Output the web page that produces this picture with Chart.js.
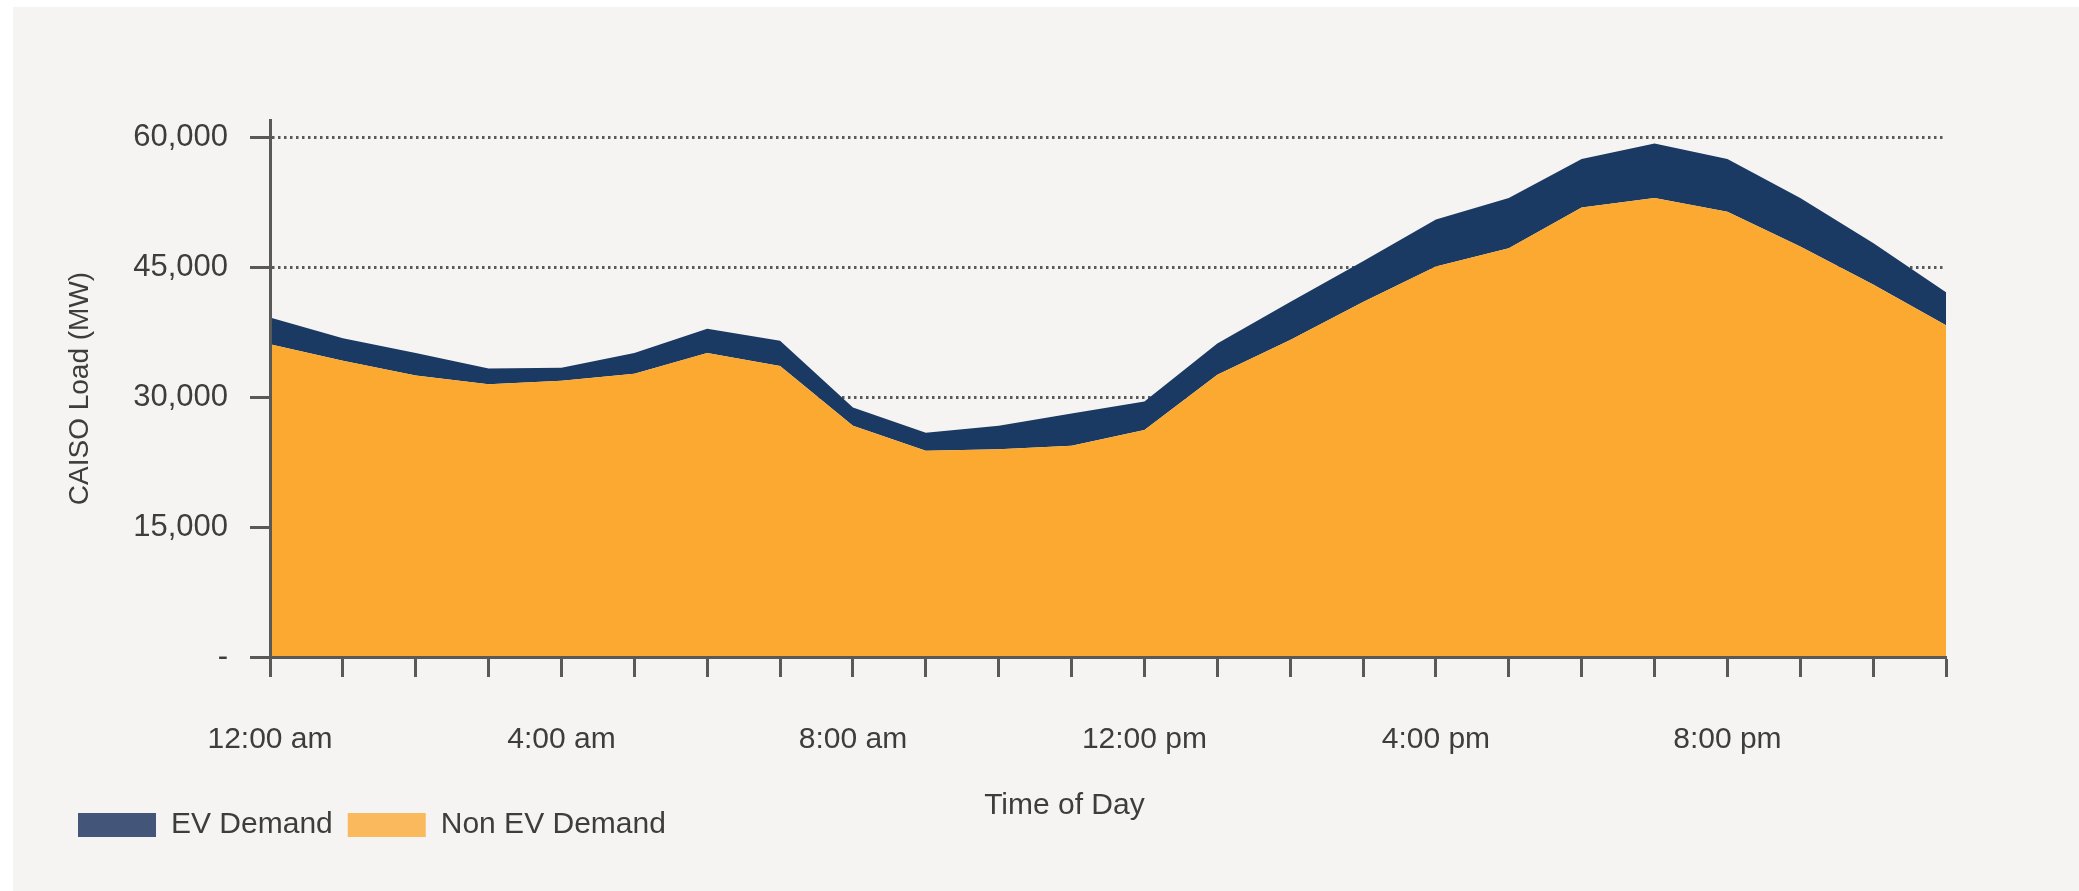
<!DOCTYPE html>
<html>
<head>
<meta charset="utf-8">
<script src="https://cdn.jsdelivr.net/npm/chart.js@4.4.0/dist/chart.umd.min.js"></script>
<style>
  html, body { margin: 0; padding: 0; background: #ffffff; }
  #frame { position: absolute; left: 13px; top: 7px; width: 2066px; height: 884px; background: #f5f4f2; }
</style>
</head>
<body>
<div id="frame"><canvas id="load"></canvas></div>
<script>
var hours = ['12:00 am', '1:00 am', '2:00 am', '3:00 am', '4:00 am', '5:00 am',
             '6:00 am', '7:00 am', '8:00 am', '9:00 am', '10:00 am', '11:00 am',
             '12:00 pm', '1:00 pm', '2:00 pm', '3:00 pm', '4:00 pm', '5:00 pm',
             '6:00 pm', '7:00 pm', '8:00 pm', '9:00 pm', '10:00 pm', '11:00 pm'];
var shownHours = ['12:00 am', '4:00 am', '8:00 am', '12:00 pm', '4:00 pm', '8:00 pm'];

// MW, hourly
var nonEvDemand = [36100, 34200, 32500, 31500, 31900, 32700, 35100, 33600, 26700, 23800, 24000, 24400,
                   26200, 32600, 36600, 41000, 45100, 47200, 51900, 53000, 51400, 47400, 43000, 38300];
var evDemand = [3100, 2600, 2600, 1800, 1500, 2400, 2800, 2900, 2100, 2100, 2700, 3700,
                3300, 3600, 4400, 4700, 5400, 5800, 5600, 6300, 6100, 5600, 4800, 3800];

var loadTicks = [0, 15000, 30000, 45000, 60000];

var axisGray = '#595959';
var textGray = '#3d3d3d';
var fontName = '"Liberation Sans", Arial, sans-serif';

window.addEventListener("load", function() {
    init();
});

function init() {
    renderLoadChart();
}

// x axis title sits a little left of the plot's middle
var timeTitle = {
    id: 'timeTitle',
    afterDraw: function(chart) {
        var area = chart.chartArea;
        var ctx = chart.ctx;
        ctx.save();
        ctx.font = '30px ' + fontName;
        ctx.fillStyle = textGray;
        ctx.textAlign = 'center';
        ctx.textBaseline = 'middle';
        ctx.fillText('Time of Day', area.left + area.width * 0.474, area.bottom + 149);
        ctx.restore();
    }
};

function renderLoadChart() {
    var ctx = document.getElementById('load').getContext('2d');
    var legendColors = ['#fbb95d', '#44557a'];

    new Chart(ctx, {
        type: 'line',
        data: {
            labels: hours,
            datasets: [{
                label: 'Non EV Demand',
                data: nonEvDemand,
                backgroundColor: '#fba931',
                borderWidth: 0,
                pointRadius: 0,
                fill: 'origin'
            }, {
                label: 'EV Demand',
                data: evDemand,
                backgroundColor: '#1b3a63',
                borderWidth: 0,
                pointRadius: 0,
                fill: '-1'
            }]
        },
        options: {
            responsive: true,
            maintainAspectRatio: false,
            animation: false,
            layout: {
                padding: { left: 50, right: 133, top: 113, bottom: 41 }
            },
            plugins: {
                tooltip: { enabled: false },
                legend: {
                    position: 'bottom',
                    align: 'start',
                    reverse: true,
                    labels: {
                        boxWidth: 78,
                        boxHeight: 24,
                        padding: 15,
                        color: textGray,
                        font: { family: fontName, size: 30 },
                        generateLabels: function(chart) {
                            var items = Chart.defaults.plugins.legend.labels.generateLabels(chart);
                            items.forEach(function(item) {
                                item.fillStyle = legendColors[item.datasetIndex];
                                item.lineWidth = 0;
                                item.strokeStyle = 'rgba(0,0,0,0)';
                            });
                            return items;
                        }
                    }
                }
            },
            scales: {
                x: {
                    offset: false,
                    afterFit: function(scale) { scale.height = 138; },
                    grid: {
                        drawOnChartArea: false,
                        drawTicks: true,
                        tickLength: 20,
                        tickWidth: 3,
                        tickColor: axisGray
                    },
                    border: { display: true, color: axisGray, width: 3, z: 1 },
                    ticks: {
                        autoSkip: false,
                        maxRotation: 0,
                        padding: 45,
                        color: textGray,
                        font: { family: fontName, size: 30 },
                        callback: function(value, index) {
                            var label = hours[index];
                            return shownHours.indexOf(label) >= 0 ? label : '';
                        }
                    }
                },
                y: {
                    stacked: true,
                    min: 0,
                    max: 62000,
                    afterFit: function(scale) { scale.width = 207; },
                    afterBuildTicks: function(scale) {
                        scale.ticks = loadTicks.map(function(v) { return { value: v }; });
                    },
                    grid: {
                        color: axisGray,
                        lineWidth: 3,
                        drawTicks: true,
                        tickLength: 20,
                        tickWidth: 3,
                        tickColor: axisGray,
                        tickBorderDash: []
                    },
                    border: { display: true, color: axisGray, width: 3, dash: [2.5, 3.5], z: 1 },
                    ticks: {
                        padding: 22,
                        color: textGray,
                        font: { family: fontName, size: 31 },
                        callback: function(value) {
                            return value === 0 ? '-' : value.toLocaleString('en-US');
                        }
                    },
                    title: {
                        display: true,
                        text: 'CAISO Load (MW)',
                        color: textGray,
                        padding: 0,
                        font: { family: fontName, size: 28 }
                    }
                }
            }
        },
        plugins: [timeTitle]
    });
}
</script>
</body>
</html>
